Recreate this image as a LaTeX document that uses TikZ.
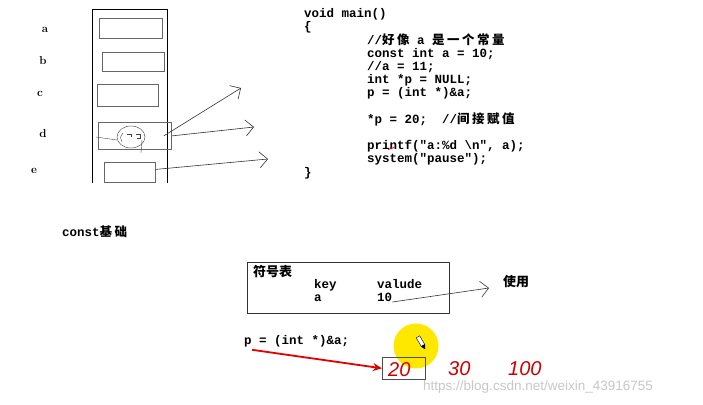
\documentclass[tikz,border=0pt]{standalone}
\usepackage{fontspec}
\setmonofont{Liberation Mono}
\setsansfont{Liberation Sans}
\newfontfamily\cjk[LetterSpace=20]{Noto Sans CJK SC}
\newfontfamily\cjkwide{Noto Sans CJK SC}
\usetikzlibrary{arrows.meta,positioning}

\newcommand\codefont{\fontsize{12.5}{13}\selectfont\ttfamily\bfseries}

\begin{document}
\begin{tikzpicture}[x=1pt, y=-1pt,
		cell/.style={draw=black!60, thick, anchor=north west, inner sep=0pt},
		lbl/.style={font=\fontsize{11.5}{13}\selectfont\bfseries},
		code/.style={anchor=base west, inner sep=0pt, font=\codefont},
		title/.style={anchor=base west, inner sep=0pt, font=\fontsize{13}{15}\selectfont\cjkwide\bfseries},
		sketch/.style={draw=black!80, semithick, -{Straight Barb[length=8pt,width=16pt]}},
		hand/.style={anchor=base west, inner sep=0pt, text=red!80!black, font=\fontsize{20}{22}\selectfont\sffamily\itshape},
	]
		\useasboundingbox (0,0) rectangle (703,404);
		
		% memory column
		\draw[semithick] (92,183) -- (92,9) -- (167,9) -- (167,183);
		\node (ca) [cell, minimum width=63pt, minimum height=20pt] at (99,18) {};
		\node (cb) [cell, minimum width=62pt, minimum height=19pt] at (102,52) {};
		\node (cc) [cell, minimum width=61pt, minimum height=22pt] at (97,84) {};
		\node (cd) [cell, minimum width=73pt, minimum height=27pt] at (98,122) {};
		\node (ce) [cell, minimum width=51pt, minimum height=20pt] at (104,162) {};
		
		\node (la) [lbl] at (45,30) {a};
		\node (lb) [lbl] at (43,61) {b};
		\node (lc) [lbl] at (40,94) {c};
		\node (ld) [lbl] at (43,134) {d};
		\node (le) [lbl] at (34,171) {e};
		
		% scribble in d
		\draw[black!75] (131,137) ellipse (14 and 11);
		\draw[black!75] (96,137) -- (117,140);
		\draw[black!75] (142,140) -- (141,153);
		\draw[black!75] (123,133) .. controls (120,137) .. (122,142);
		\draw[black!75] (127,134) -- (131,134) -- (131,137);
		\draw[black!75] (136,134) -- (140,134) -- (140,138) -- (137,138);
		
		\coordinate (t1) at (241,88);
		\coordinate (t2) at (254,127);
		\coordinate (t3) at (268,159);
		\draw[sketch] ([xshift=-8pt]cd.east) -- (t1);
		\draw[sketch] (cd.east) -- (t2);
		\draw[sketch] ([yshift=3pt]ce.east) -- (t3);
		
		% source code
		\node (c0) [code] at (304,17.5) {void main()};
		\node (c1) [code] at (304,31) {\{};
		\node (c2) [code] at (367,44.5) {//{\cjk\bfseries 好像} a {\cjk\bfseries 是一个常量}};
		\node (c3) [code] at (367,57.5) {const int a = 10;};
		\node (c4) [code] at (367,70.5) {//a = 11;};
		\node (c5) [code] at (367,83.5) {int *p = NULL;};
		\node (c6) [code] at (367,96.5) {p = (int *)\&a;};
		\node (c7) [code] at (367,123.2) {*p = 20;~ //{\cjk\bfseries 间接赋值}};
		\node (c8) [code] at (367,149.9) {printf("a:\%d \textbackslash n", a);};
		\node (c9) [code] at (367,162.9) {system("pause");};
		\node (c10) [code] at (304,176) {\}};
		\draw[red, thick] (388,149.5) -- (394,147.5);
		
		\node (base) [code] at (62,236) {const{\cjk\bfseries 基础}};
		
		% symbol table
		\node (tab) [draw=black!80, semithick, anchor=north west, minimum width=202pt, minimum height=51pt] at (247,262) {};
		\node (tt) [title] at (253,276) {符号表};
		\node (key) [code] at (314,288) {key};
		\node (val) [code] at (377,288) {valude};
		\node (ka) [code] at (314,301) {a};
		\node (va) [code] at (377,301) {10};
		\node (use) [title] at (503,286) {使用};
		\coordinate (t4) at (489,288);
		\draw[sketch] ([yshift=-1pt]va.base east) -- (t4);
		
		% pointer
		\node (p) [code] at (244,344) {p = (int *)\&a;};
		\node (dot) [circle, fill={rgb,255:red,255;green,232;blue,0}, minimum size=45pt, inner sep=0pt] at (416,346) {};
		\node (cell) [cell, draw=black!70, semithick, minimum width=43pt, minimum height=22pt] at (382,357) {};
		\draw[red!90!black, line width=1.8pt, -{Stealth[length=9pt,width=8pt]}] ([xshift=8pt,yshift=-3pt]p.south west) -- (cell.west);
		\draw[black, fill=white, rotate around={30:(421,342)}] (419,336) rectangle (423,346);
		\draw[black, fill=black, rotate around={30:(421,342)}] (419,346) -- (421,350) -- (423,346) -- cycle;
		
		\node (n20) [hand] at (388,376) {20};
		\node (n30) [hand] at (448,375) {30};
		\node (n100) [hand] at (508,375) {100};
		
		\node (url) [anchor=base west, inner sep=0pt, text=black!22, font=\fontsize{13.5}{15}\selectfont\sffamily] at (423,390) {https://blog.csdn.net/weixin\_43916755};
	\end{tikzpicture}
\end{document}
